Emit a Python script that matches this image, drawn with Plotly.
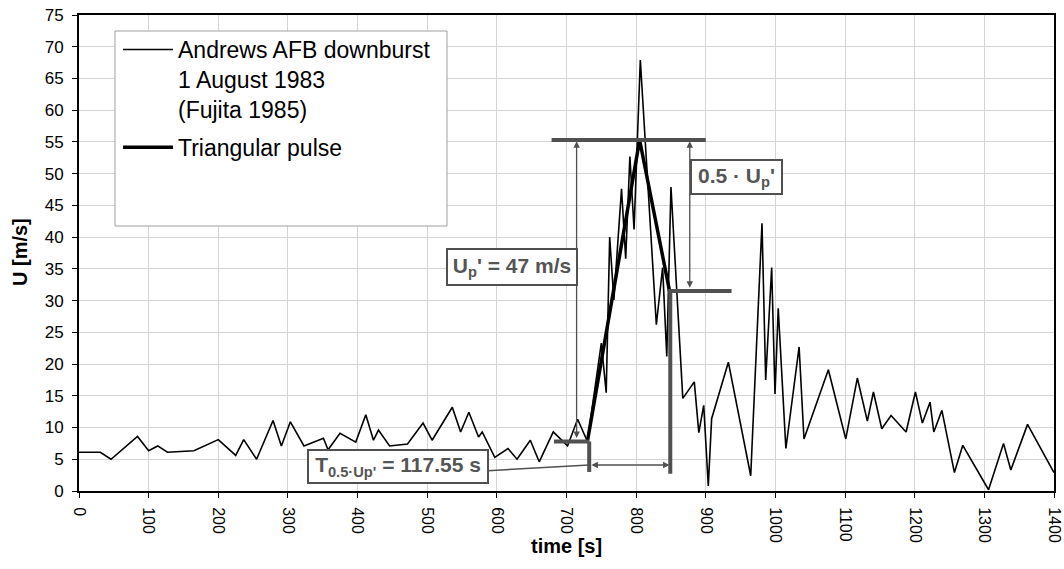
import plotly.graph_objects as go

# ---------------- data ----------------
time_s = [0, 30.6, 46, 84, 100, 113, 127, 165, 200, 225, 236.5, 255, 278.6, 290.6, 303.5,
          323, 351, 357.6, 374.8, 397.4, 411.8, 422.8, 430, 446, 471.7, 494, 507, 536, 548,
          559.8, 573.7, 579, 597, 616, 629, 648, 660.8, 681, 701.5, 716, 730, 750, 757, 762,
          768, 779, 785, 791, 797, 806, 829, 838, 844, 850, 867, 883.5, 890, 897, 903.6,
          908.4, 932.4, 964.5, 980.7, 986, 994.6, 999.4, 1004, 1015, 1034, 1041, 1076, 1101,
          1117.6, 1132, 1140.7, 1152.7, 1166, 1187.6, 1201, 1211, 1222, 1227.4, 1239, 1257,
          1269, 1306, 1327.5, 1338, 1362, 1400]
u_ms = [6.1, 6.1, 5.0, 8.6, 6.35, 7.1, 6.1, 6.35, 8.1, 5.6, 8.1, 5.0, 11.1, 7.1, 10.9,
        7.1, 8.3, 6.5, 9.1, 7.7, 12.0, 8.0, 9.6, 7.1, 7.4, 10.7, 8.0, 13.2, 9.3,
        12.4, 8.5, 9.3, 5.3, 6.7, 5.0, 8.0, 4.6, 9.3, 7.1, 11.3, 7.8, 23.3, 15.5, 40.0,
        30.1, 47.6, 36.6, 52.7, 41.2, 67.9, 26.2, 35.2, 21.2, 47.9, 14.6, 17.2, 9.2, 13.5, 0.8,
        11.4, 20.3, 2.4, 42.2, 17.5, 35.2, 15.3, 28.8, 6.7, 22.7, 8.2, 19.1, 8.2,
        17.8, 11.0, 15.6, 9.8, 11.9, 9.3, 15.6, 10.7, 14.0, 9.3, 12.7, 2.9,
        7.2, 0.2, 7.5, 3.3, 10.5, 2.9]

pulse_t = [730, 805, 848]
pulse_u = [7.8, 55.3, 31.5]

# construction values of the annotation geometry
u_base = 7.8
u_peak = 55.3
u_half = 31.5
t_start = 732.6
t_half = 849
t_upArrow = 714.5
t_halfArrow = 877

x_ticks = list(range(0, 1401, 100))
y_ticks = list(range(0, 76, 5))

GRAY = "#505050"
TXT = "#555555"
FONT = "Liberation Sans, Arial, sans-serif"

# plot-area pixel helpers (for paper-referenced placements only)
L, R, T, B = 79, 10, 15, 78
PW = 1064 - L - R
PH = 569 - T - B
def px(xp):
    return (xp - L) / PW
def py(yp):
    return (569 - B - yp) / PH

fig = go.Figure()
fig.add_trace(go.Scatter(x=time_s, y=u_ms, mode="lines",
                         line=dict(color="black", width=1.6), legendgroup="a",
                         name="Andrews AFB downburst<br>1 August 1983<br>(Fujita 1985)"))
fig.add_trace(go.Scatter(x=pulse_t, y=pulse_u, mode="lines",
                         line=dict(color="black", width=3.5), legendgroup="b",
                         name="Triangular pulse"))

shapes = []
# legend frame
shapes.append(dict(type="rect", xref="paper", yref="paper",
                   x0=px(115), x1=px(447), y0=py(226), y1=py(31),
                   line=dict(color="#a0a0a0", width=1), fillcolor="white", layer="above"))
# thick gray construction lines
thick = dict(color=GRAY, width=4)
shapes.append(dict(type="line", xref="x", yref="y", x0=678.6, x1=900, y0=u_peak, y1=u_peak, line=thick))
shapes.append(dict(type="line", xref="x", yref="y", x0=846, x1=937, y0=u_half, y1=u_half, line=thick))
shapes.append(dict(type="line", xref="x", yref="y", x0=682, x1=t_start, y0=u_base, y1=u_base, line=thick))
shapes.append(dict(type="line", xref="x", yref="y", x0=t_start, x1=t_start, y0=u_base, y1=3.0, line=thick))
shapes.append(dict(type="line", xref="x", yref="y", x0=t_half, x1=t_half, y0=u_half, y1=2.7, line=thick))
# leader line from T box
shapes.append(dict(type="line", xref="x", yref="y", x0=587, x1=t_start, y0=3.2, y1=4.1,
                   line=dict(color=GRAY, width=1.5)))

annotations = []
arrow_common = dict(xref="x", yref="y", axref="x", ayref="y", text="", showarrow=True,
                    arrowhead=2, arrowsize=1, arrowwidth=1.3, arrowcolor=GRAY,
                    arrowside="end+start")
annotations.append(dict(x=t_upArrow, y=u_peak - 0.2, ax=t_upArrow, ay=u_base + 0.3, **arrow_common))
annotations.append(dict(x=t_halfArrow, y=u_peak - 0.2, ax=t_halfArrow, ay=u_half + 0.3, **arrow_common))
annotations.append(dict(x=t_half - 1, y=4.1, ax=t_start + 1, ay=4.1, **arrow_common))

box_common = dict(xref="x", yref="y", showarrow=False, bgcolor="white",
                  bordercolor=GRAY, borderwidth=2, borderpad=2,
                  font=dict(family=FONT, size=21, color=TXT))
annotations.append(dict(x=621.6, y=35.3, text="<b>U<sub>p</sub>' = 47 m/s</b>",
                        width=124, height=30, **box_common))
annotations.append(dict(x=944, y=49.4, text="<b>0.5 · U<sub>p</sub>'</b>",
                        width=85, height=28, **box_common))
annotations.append(dict(x=457.7, y=3.86, text="<b>T<sub>0.5·Up'</sub> = 117.55 s</b>",
                        width=174, height=27, **box_common))

# axis titles
annotations.append(dict(xref="paper", yref="paper", x=px(566), y=py(546),
                        text="<b>time [s]</b>", showarrow=False, yanchor="middle",
                        font=dict(family=FONT, size=20, color="black")))
annotations.append(dict(xref="paper", yref="paper", x=px(20), y=py(252),
                        text="<b>U [m/s]</b>", showarrow=False, textangle=-90,
                        xanchor="center", yanchor="middle",
                        font=dict(family=FONT, size=20, color="black")))

fig.update_layout(
    width=1064, height=569,
    margin=dict(l=L, r=R, t=T, b=B, autoexpand=False),
    paper_bgcolor="white", plot_bgcolor="white",
    font=dict(family=FONT, size=16, color="black"),
    showlegend=True,
    legend=dict(x=px(118), y=py(28), xanchor="left", yanchor="top",
                bgcolor="rgba(0,0,0,0)", borderwidth=0, valign="top", itemwidth=50,
                font=dict(family=FONT, size=23, color="black"), tracegroupgap=5),
    shapes=shapes,
    annotations=annotations,
)
fig.update_xaxes(range=[0, 1400], tickvals=x_ticks, ticktext=[str(v) for v in x_ticks],
                 tickangle=90, showline=True, mirror=True, linecolor="black", linewidth=2,
                 showgrid=True, gridcolor="#d4d4d4", gridwidth=1, ticks="outside", ticklen=5,
                 tickcolor="black", zeroline=False, tickfont=dict(size=16),
                 automargin=False, ticklabelstandoff=6)
fig.update_yaxes(range=[0, 75], tickvals=y_ticks, showline=True, mirror=True, linecolor="black",
                 linewidth=2, showgrid=True, gridcolor="#d4d4d4", gridwidth=1, ticks="outside",
                 ticklen=5, tickcolor="black", zeroline=False, tickfont=dict(size=17),
                 automargin=False, ticklabelstandoff=5)

fig.write_html("out.html")
